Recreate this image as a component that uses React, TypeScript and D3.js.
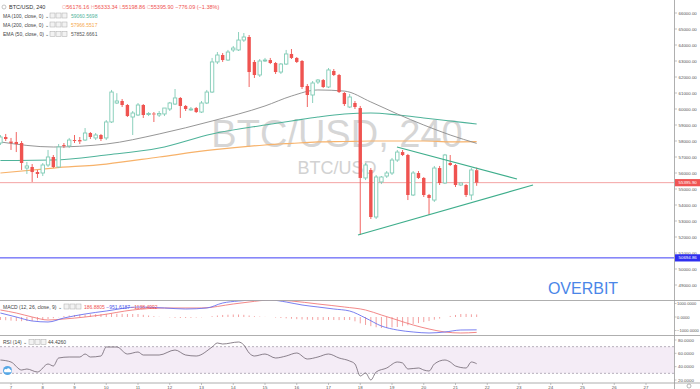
import React from 'react';
import * as d3 from 'd3';

const W = 700;
const H = 389;

// ---- data ----
const dayTicks = [7, 8, 9, 10, 11, 12, 13, 14, 15, 16, 17, 18, 19, 20, 21, 22, 23, 24, 25, 26, 27];
const firstBarDay = 6 + 16 / 24; // first 4h bar: 6th 16:00
const barDays = 4 / 24;

const opens = [57875,58250,57970,57940,57875,56310,56375,56060,56000,56500,
57000,56375,57750,57690,58060,58060,58060,58500,58190,58375,
58190,59190,60375,60500,60250,59500,59625,60250,59656,59720,
59625,59690,60000,60310,60690,60190,59940,60060,59810,60375,
61060,62940,63375,63060,63690,63690,64310,64500,62940,62125,
63000,63060,62875,62310,62810,63440,63190,63000,61440,60875,
61690,61810,61375,62375,62125,61000,60125,60375,60060,55690,
56190,53250,55440,55810,56000,56810,57310,57125,54625,56000,
55690,54625,54310,56310,55375,56625,56500,55250,55250,54625,
56176.16];
const highs = [58375,58440,58190,58560,58000,56690,56560,56190,56625,57440,
57125,57810,57875,58190,58375,58250,58810,58560,58500,58440,
59310,61190,60990,60625,60310,59875,60375,60310,59810,59810,
59875,60060,60440,61250,60750,60250,60125,60125,60500,61190,
63190,63560,63500,63690,63940,64810,64750,64625,63060,63125,
63190,63190,62940,62875,63690,63750,63250,63060,61560,61750,
61875,61875,62560,62500,62190,61060,60940,60500,60190,56625,
56310,55875,55810,56125,56940,57440,57440,57190,56125,56125,
55750,54690,56440,56440,57190,57125,56560,55375,55310,56310,
56333.34];
const lows = [57750,58000,57440,57310,56190,55940,55440,55690,55810,56375,
56310,56310,57560,57560,57875,57810,58000,58125,58060,58000,
58060,59125,60310,60125,59500,58375,59560,59440,59560,59187,
59500,59560,59875,60250,59440,59875,59875,59750,59750,60310,
61000,62810,62940,63000,63560,63625,64190,61375,61940,62000,
62940,62810,62190,62190,62750,63125,62875,61250,60125,60375,
61560,61310,61310,62060,61000,60190,60060,60000,52125,55560,
53125,53125,55310,55690,55875,56690,57060,54310,54560,55625,
54500,53375,54190,55250,55310,56440,55125,55190,54500,54310,
55198.86];
const closes = [58250,58125,57875,57810,56625,56440,56060,55940,56500,57000,
56375,57625,57690,58060,58000,57970,58500,58250,58375,58125,
59190,61060,60500,60250,59560,59750,60250,59625,59720,59656,
59720,60060,60375,60690,60190,60000,60000,59810,60375,61060,
62940,63375,63060,63560,63810,64310,64500,62310,62125,63000,
63060,62875,62310,62810,63440,63190,62940,61375,60875,61625,
61810,61375,62440,62125,61060,60310,60750,60125,55690,56500,
53250,55750,55750,56000,56810,57310,57125,54625,56000,55690,
54625,54440,56310,55375,57125,56500,55250,55375,54625,56190,
55395.90];

const maIdx = [0, 10, 20, 30, 40, 50, 55, 60, 65, 70, 75, 80, 85, 90];
const ema50 = [57940, 57625, 57810, 58440, 59250, 60190, 60810, 61190, 61120, 60440, 59690, 59000, 58375, 57852.67];
const ma100 = [56780, 56810, 57125, 57560, 58440, 59000, 59250, 59500, 59690, 59750, 59625, 59440, 59250, 59060.57];
const ma200 = [56000, 56310, 56560, 57000, 57440, 57750, 57850, 57940, 57970, 58000, 58000, 58000, 57950, 57966.55];

const macdIdx = [0,3,6,9,12,16,20,26,31,35,39,42,45,48,51,54,57,60,63,66,69,72,75,78,81,84,87,90];
const macdLine = [296,0,-296,-370,-74,222,444,741,667,593,667,1037,1185,1259,1259,1111,889,741,593,444,-74,-667,-963,-1111,-1185,-1111,-963,-951.62];
const signalIdx = [0,3,6,9,12,16,19,25,31,38,44,47,51,55,60,65,69,72,75,78,81,84,87,90];
const signalLine = [519,296,0,-222,-148,0,148,519,667,667,963,1111,1259,1185,963,741,519,148,-222,-593,-889,-1111,-1185,-1138.5];
const histogram = [-220,-240,-270,-300,-310,-300,-300,-260,-210,-150,
-90,-20,75,110,150,185,185,200,210,215,
220,260,240,230,220,220,220,160,110,60,
20,0,-30,-60,-75,-75,-60,-40,-20,0,
60,110,150,170,185,185,160,110,60,30,
10,0,-40,-70,-100,-130,-160,-185,-200,-210,
-220,-220,-215,-220,-230,-225,-220,-320,-470,-590,
-680,-760,-815,-800,-770,-740,-680,-610,-520,-450,
-380,-300,-200,-120,0,80,150,220,230,200,
186.88];

const rsiIdx = [0,2,4,5,7,9,10,11,13,15,16,17,19,20,22,24,26,27,30,33,35,37,40,41,42,45,46,47,48,50,52,54,56,58,60,62,64,66,67,68,69,70,71,73,75,76,77,79,80,81,82,84,85,86,88,89,90];
const rsiVals = [50,47,35,36.5,32,44,41,53,54.5,54.5,59,54.5,56,69.5,69.5,59,62,57.5,57.5,65,57.5,56,69.5,75.5,74,77,72.5,60.5,56,59,53,56,60.5,51.5,54.5,59,53,48.5,44,26,30.5,20,32,38,47,45.5,36.5,38,35,33.5,44,50,47,41,38,47,44.43];

const priceTicks = d3.range(49000, 66001, 1000);
const macdTicks = [1000, 0, -1000];
const rsiTicks = [80, 60, 40, 20];
const lastPrice = 55395.90;
const alertPrice = 50694.86;
const trendUpper = [{ t: 19.157, p: 57625 }, { t: 22.937, p: 55625 }];
const trendLower = [{ t: 17.929, p: 52125 }, { t: 23.441, p: 55250 }];

// ---- styles ----
const RED = '#ef5350';
const TEAL = '#7fcbb5';
const FONT = '"Liberation Sans", Arial, sans-serif';
const AX = 674.5;

const barTime = (k: number) => firstBarDay + k * barDays;

export default function App() {
  const x = d3.scaleLinear().domain([7, 27]).range([11, 646]);
  const y = d3.scaleLinear().domain([49000, 66000]).range([285, 13]);
  const yM = d3.scaleLinear().domain([-1000, 1000]).range([330.5, 303.5]);
  const yR = d3.scaleLinear().domain([20, 80]).range([380, 340]);

  const mkLine = (idx: number[], vals: number[], ys: (v: number) => number) =>
    d3.line<number>().x((_, i) => x(barTime(idx[i]))).y((v) => ys(v)).curve(d3.curveMonotoneX)(vals) || '';

  const bw = 3.4;
  const AF = 4.4;

  return (
    <svg width={W} height={H} style={{ position: 'absolute', left: 0, top: 0, background: '#fff' }} fontFamily={FONT}>
      <defs>
        <clipPath id="mainClip"><rect x={0} y={0} width={AX} height={300} /></clipPath>
        <clipPath id="macdClip"><rect x={0} y={300.5} width={AX} height={34.5} /></clipPath>
        <clipPath id="rsiClip"><rect x={0} y={335.5} width={AX} height={47} /></clipPath>
      </defs>
      <rect x={0} y={0} width={W} height={H} fill="#fff" />

      {/* watermark */}
      <text x={337} y={147} textAnchor="middle" fontSize={38} fill="#d6d6d6">BTC/USD, 240</text>
      <text x={337} y={174} textAnchor="middle" fontSize={18} fill="#d2d2d2">BTC/USD</text>

      <g clipPath="url(#mainClip)">
        {/* price lines */}
        <line x1={0} x2={AX} y1={y(lastPrice)} y2={y(lastPrice)} stroke="#f4a3a3" strokeWidth={1} />
        <line x1={0} x2={AX} y1={y(alertPrice)} y2={y(alertPrice)} stroke="#3f3ff5" strokeWidth={1} />

        {/* moving averages */}
        <path d={mkLine(maIdx, ma200, y)} fill="none" stroke="#f7b26a" strokeWidth={1.2} />
        <path d={mkLine(maIdx, ma100, y)} fill="none" stroke="#4fb39a" strokeWidth={1.1} />
        <path d={mkLine(maIdx, ema50, y)} fill="none" stroke="#8a8a8a" strokeWidth={0.9} />

        {/* candles */}
        {opens.map((o, i) => {
          const c = closes[i];
          const up = c >= o;
          const cx = x(barTime(i));
          const top = y(Math.max(o, c));
          const bot = y(Math.min(o, c));
          const col = up ? TEAL : RED;
          return (
            <g key={i}>
              <line x1={cx} x2={cx} y1={y(highs[i])} y2={top} stroke={col} strokeWidth={0.9} />
              <line x1={cx} x2={cx} y1={bot} y2={y(lows[i])} stroke={col} strokeWidth={0.9} />
              <rect x={cx - bw / 2} y={top} width={bw} height={Math.max(bot - top, 0.9)}
                fill={up ? '#fff' : RED} stroke={up ? TEAL : 'none'} strokeWidth={0.9} />
            </g>
          );
        })}

        {/* triangle */}
        <line x1={x(trendUpper[0].t)} y1={y(trendUpper[0].p)} x2={x(trendUpper[1].t)} y2={y(trendUpper[1].p)} stroke="#3fae8c" strokeWidth={1.2} />
        <line x1={x(trendLower[0].t)} y1={y(trendLower[0].p)} x2={x(trendLower[1].t)} y2={y(trendLower[1].p)} stroke="#3fae8c" strokeWidth={1.2} />
      </g>

      <text x={583} y={294} textAnchor="middle" fontSize={16} fill="#4a86e8">OVERBIT</text>

      {/* MACD pane */}
      <g clipPath="url(#macdClip)">
        {histogram.map((h, i) => (
          <line key={i} x1={x(barTime(i))} x2={x(barTime(i))} y1={yM(0)} y2={yM(h)} stroke="#f3a0a0" strokeWidth={1} />
        ))}
        <path d={mkLine(signalIdx, signalLine, yM)} fill="none" stroke="#f07a7a" strokeWidth={0.9} />
        <path d={mkLine(macdIdx, macdLine, yM)} fill="none" stroke="#6a72ee" strokeWidth={0.9} />
      </g>

      {/* RSI pane */}
      <g clipPath="url(#rsiClip)">
        <rect x={0} y={yR(70)} width={AX} height={yR(30) - yR(70)} fill="#f4ecf6" />
        <line x1={0} x2={AX} y1={yR(70)} y2={yR(70)} stroke="#9b8fa0" strokeWidth={0.7} strokeDasharray="2,2" />
        <line x1={0} x2={AX} y1={yR(30)} y2={yR(30)} stroke="#9b8fa0" strokeWidth={0.7} strokeDasharray="2,2" />
        <path d={mkLine(rsiIdx, rsiVals, yR)} fill="none" stroke="#6e6470" strokeWidth={0.8} />
      </g>

      {/* tradingview logo */}
      <circle cx={7.5} cy={370.5} r={4.5} fill="#58a8e6" />
      <path d="M4.8,372.3 h5.4 a1.3,1.3 0 0 0 0,-2.6 a1.8,1.8 0 0 0 -3.4,-0.4 a1.5,1.5 0 0 0 -2,3 z" fill="#fff" />

      {/* pane separators */}
      <line x1={0} x2={W} y1={300.5} y2={300.5} stroke="#9a9a9a" strokeWidth={0.8} />
      <line x1={0} x2={W} y1={335.5} y2={335.5} stroke="#9a9a9a" strokeWidth={0.8} />
      <line x1={0} x2={W} y1={383} y2={383} stroke="#9a9a9a" strokeWidth={0.8} />
      <line x1={AX} x2={AX} y1={0} y2={H} stroke="#9a9a9a" strokeWidth={0.8} />

      {/* price axis */}
      {priceTicks.map((p) => (
        <g key={p}>
          <line x1={AX} x2={AX + 2.5} y1={y(p)} y2={y(p)} stroke="#9a9a9a" strokeWidth={0.6} />
          <text x={678.5} y={y(p) + 1.5} fontSize={AF} fill="#555">{p.toFixed(2)}</text>
        </g>
      ))}
      <rect x={675} y={y(lastPrice) - 3.6} width={25} height={7.2} fill="#f05454" />
      <text x={678.5} y={y(lastPrice) + 1.6} fontSize={AF} fill="#fff">{lastPrice.toFixed(2)}</text>
      <rect x={675} y={y(alertPrice) - 3.6} width={25} height={7.2} fill="#2f2ff0" />
      <text x={678.5} y={y(alertPrice) + 1.6} fontSize={AF} fill="#fff">{alertPrice.toFixed(2)}</text>

      {macdTicks.map((v) => (
        <g key={v}>
          <line x1={AX} x2={AX + 2} y1={yM(v)} y2={yM(v)} stroke="#9a9a9a" strokeWidth={0.6} />
          <text x={677} y={yM(v) + 1.5} fontSize={4.1} fill="#555">{v < 0 ? '\u2212' + Math.abs(v).toFixed(4) : v.toFixed(4)}</text>
        </g>
      ))}
      {rsiTicks.map((v) => (
        <g key={v}>
          <line x1={AX} x2={AX + 2} y1={yR(v)} y2={yR(v)} stroke="#9a9a9a" strokeWidth={0.6} />
          <text x={678} y={yR(v) + 1.5} fontSize={AF} fill="#555">{v.toFixed(4)}</text>
        </g>
      ))}

      {/* time axis */}
      {dayTicks.map((d) => (
        <g key={d}>
          <line x1={x(d)} x2={x(d)} y1={383} y2={385} stroke="#9a9a9a" strokeWidth={0.6} />
          <text x={x(d)} y={388.5} fontSize={AF} fill="#555" textAnchor="middle">{d}</text>
        </g>
      ))}
      <circle cx={689} cy={386} r={2} fill="none" stroke="#888" strokeWidth={0.6} />

      {/* legend */}
      <circle cx={4} cy={7} r={2} fill="none" stroke="#aaa" strokeWidth={0.7} />
      <text x={9} y={9} fontSize={5.5} fill="#333">BTC/USD, 240</text>
      <text x={62} y={9} fontSize={5.5}>
        <tspan fill="#f4b4b4">O</tspan><tspan fill={RED}>56176.16 </tspan>
        <tspan fill="#f4b4b4">H</tspan><tspan fill={RED}>56333.34 </tspan>
        <tspan fill="#f4b4b4">L</tspan><tspan fill={RED}>55198.86 </tspan>
        <tspan fill="#f4b4b4">C</tspan><tspan fill={RED}>55395.90 </tspan>
        <tspan fill={RED}>{'\u2212776.09 (\u22121.38%)'}</tspan>
      </text>

      {[
        { label: 'MA (100, close, 0) \u2304', val: '59060.5698', col: '#4fb39a', yy: 17.5, ix: 50 },
        { label: 'MA (200, close, 0) \u2304', val: '57966.5517', col: '#f5a94e', yy: 26.5, ix: 50 },
        { label: 'EMA (50, close, 0) \u2304', val: '57852.6661', col: '#555', yy: 36, ix: 50 },
      ].map((r) => (
        <g key={r.label}>
          <text x={3} y={r.yy} fontSize={5} fill="#444">{r.label}</text>
          {[0, 1, 2].map((j) => (
            <rect key={j} x={r.ix + j * 6} y={r.yy - 4.5} width={5} height={5} fill="#f2f2f2" stroke="#aaa" strokeWidth={0.5} />
          ))}
          <text x={r.ix + 21} y={r.yy} fontSize={5} fill={r.col}>{r.val}</text>
        </g>
      ))}

      <text x={3} y={308.5} fontSize={5} fill="#444">MACD (12, 26, close, 9) {'\u2304'}</text>
      {[0, 1, 2].map((j) => (
        <rect key={j} x={64 + j * 6} y={304} width={5} height={5} fill="#f2f2f2" stroke="#aaa" strokeWidth={0.5} />
      ))}
      <text x={84} y={308.5} fontSize={5}>
        <tspan fill={RED}>186.8805 </tspan>
        <tspan fill="#4b56e8">{'\u2212951.6187 '}</tspan>
        <tspan fill={RED}>{'\u22121138.4992'}</tspan>
      </text>

      <text x={3} y={344} fontSize={5} fill="#444">RSI (14) {'\u2304'}</text>
      {[0, 1, 2].map((j) => (
        <rect key={j} x={29 + j * 6} y={339.5} width={5} height={5} fill="#f2f2f2" stroke="#aaa" strokeWidth={0.5} />
      ))}
      <text x={48} y={344} fontSize={5} fill="#444">44.4260</text>
    </svg>
  );
}
